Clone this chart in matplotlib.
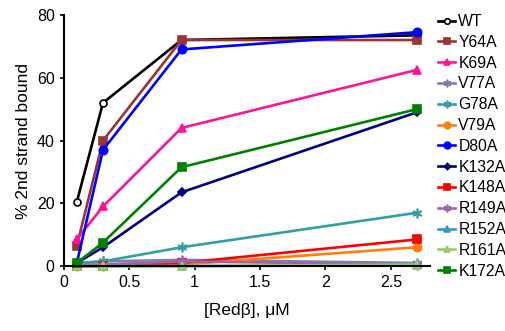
import matplotlib
matplotlib.use("Agg")
import matplotlib.pyplot as plt

plt.rcParams['font.family'] = ['Liberation Sans', 'DejaVu Sans']

x = [0.1, 0.3, 0.9, 2.7]
names = ["WT", "Y64A", "K69A", "V77A", "G78A", "V79A", "D80A",
         "K132A", "K148A", "R149A", "R152A", "R161A", "K172A"]
wt    = [20.5, 52, 72, 73.5]
y64a  = [6.5, 40, 72, 72]
k69a  = [8.5, 19, 44, 62.5]
v77a  = [1, 1.5, 2, 1]
g78a  = [1, 1.5, 6, 17]
v79a  = [0, 0, 0.5, 6]
d80a  = [1, 37, 69, 74.5]
k132a = [1, 6, 23.5, 49]
k148a = [0, 0, 1, 8.5]
r149a = [0.5, 0.5, 1.5, 0.5]
r152a = [0, 0, 0, 0.3]
r161a = [0, 0, 0, 0.5]
k172a = [1, 7.5, 31.5, 50]
series = [wt, y64a, k69a, v77a, g78a, v79a, d80a, k132a, k148a, r149a, r152a, r161a, k172a]

styles = [
    dict(color='black', marker='o', mfc='white', ms=5),
    dict(color='#9B3535', marker='s', ms=6),
    dict(color='#FF1493', marker='^', ms=6),
    dict(color='#8080B0', marker=(6, 2, 0), ms=7),
    dict(color='#33A0A0', marker=(6, 2, 0), ms=7),
    dict(color='#FF7F0E', marker='o', ms=6),
    dict(color='#0000FF', marker='o', ms=6),
    dict(color='#000080', marker='D', ms=4),
    dict(color='#FF0000', marker='s', ms=6),
    dict(color='#9966AA', marker=(6, 2, 0), ms=7),
    dict(color='#3399CC', marker='^', ms=6),
    dict(color='#99CC66', marker='^', ms=6),
    dict(color='#008000', marker='s', ms=6),
]

fig = plt.figure(figsize=(5.06, 3.31), dpi=100)
ax = fig.add_axes([0.126, 0.196, 0.724, 0.759])
for nm, ys, st in zip(names, series, styles):
    mec = st['color']
    ax.plot(x, ys, lw=1.9, label=nm, mec=mec, mew=1.2, clip_on=False, **st)

ax.set_xlim(0, 2.8)
ax.set_ylim(0, 80)
ax.set_xticks([0, 0.5, 1, 1.5, 2, 2.5])
ax.set_xticklabels(["0", "0.5", "1", "1.5", "2", "2.5"])
ax.set_yticks([0, 20, 40, 60, 80])
for s in ['top', 'right']:
    ax.spines[s].set_visible(False)
for s in ['left', 'bottom']:
    ax.spines[s].set_linewidth(1.5)
ax.tick_params(direction='out', length=3, width=1.2, labelsize=11.5)
ax.set_xlabel("[Redβ], μM", fontsize=12.5, labelpad=9)
ax.set_ylabel("% 2nd strand bound", fontsize=12.5, labelpad=4)

leg = fig.legend(*ax.get_legend_handles_labels(), loc='upper left',
                 bbox_to_anchor=(438 / 506, 1 - 14 / 331), frameon=False,
                 fontsize=11.3, handlelength=1.1, handletextpad=0.2,
                 labelspacing=0.37, borderaxespad=0, borderpad=0, markerscale=0.8)
fig.savefig("out.png", dpi=100)
